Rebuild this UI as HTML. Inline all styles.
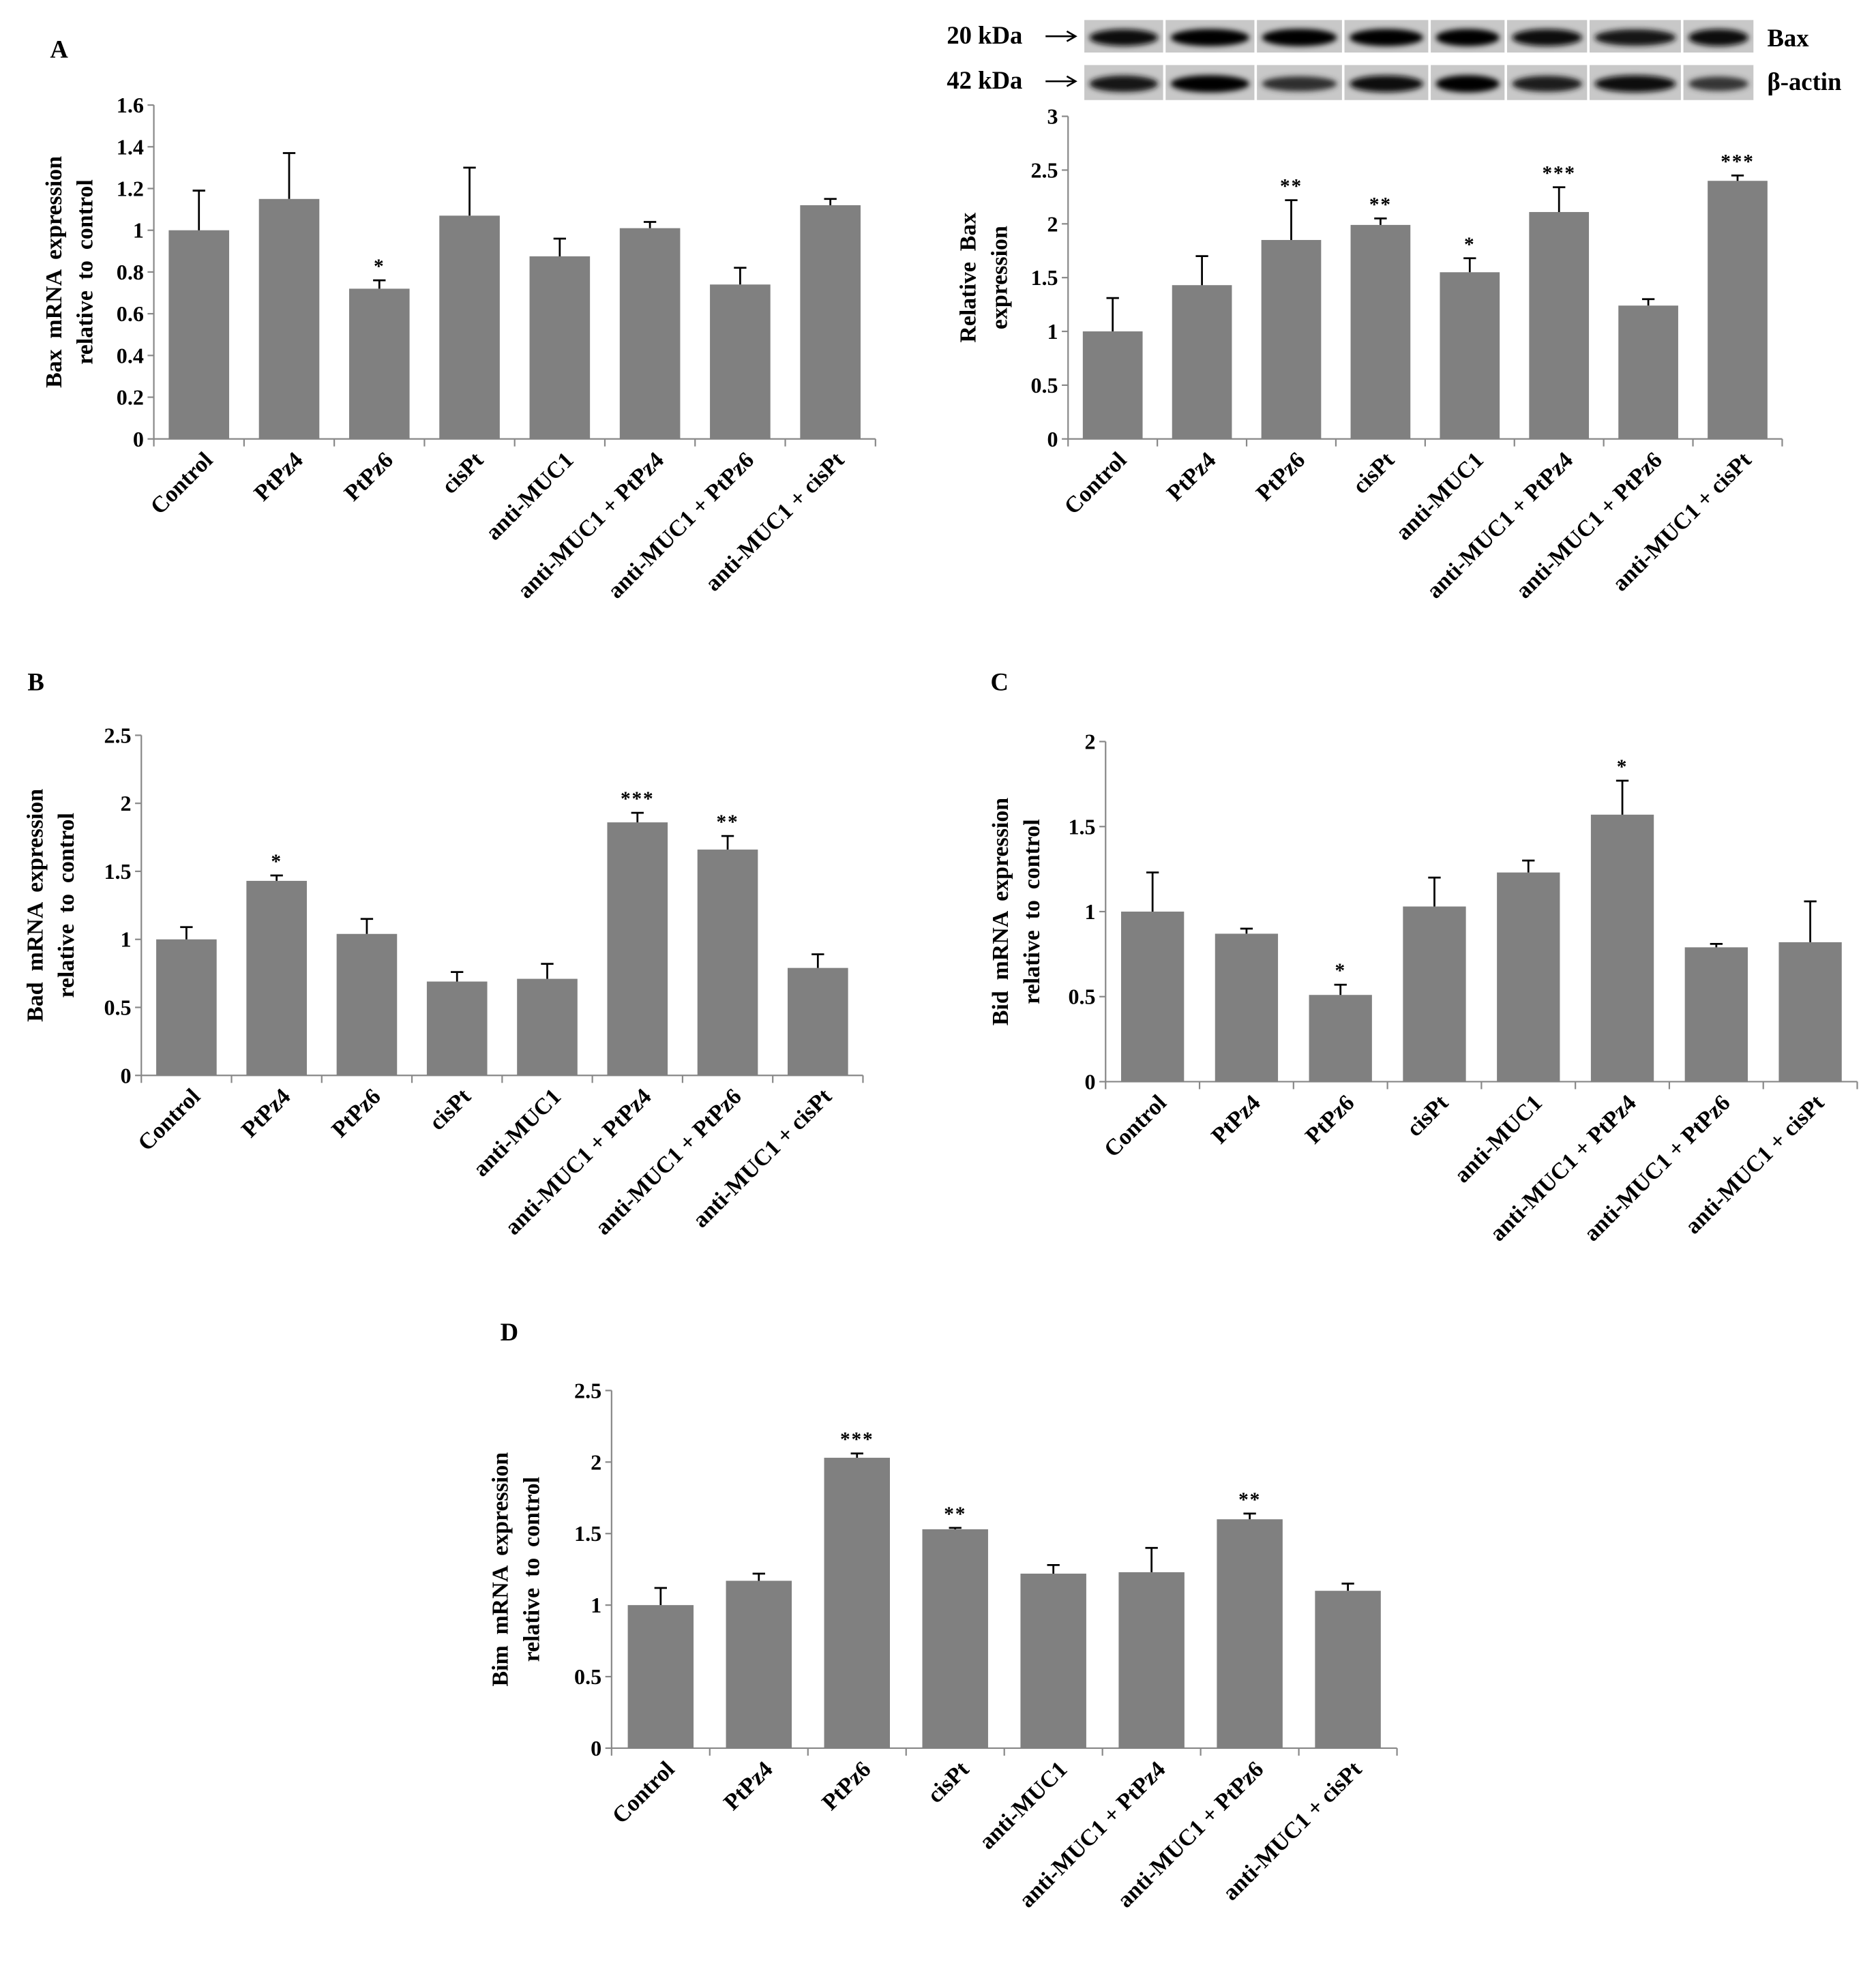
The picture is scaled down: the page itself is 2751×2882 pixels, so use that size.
<!DOCTYPE html>
<html><head><meta charset="utf-8"><style>
html,body{margin:0;padding:0;background:#fff;}
svg{display:block;}
text{font-family:"Liberation Serif",serif;font-weight:bold;fill:#000;}
</style></head><body>
<svg id="fig" width="2751" height="2882" viewBox="0 0 1500 1571.4" xmlns="http://www.w3.org/2000/svg">
<defs><filter id="bl" x="-20%" y="-50%" width="140%" height="200%"><feGaussianBlur stdDeviation="2.2"/></filter></defs>
<g id="root"></g>
</svg>
<script>
const categories = ["Control","PtPz4","PtPz6","cisPt","anti-MUC1","anti-MUC1 + PtPz4","anti-MUC1 + PtPz6","anti-MUC1 + cisPt"];
const baxMrna = [1.0,1.15,0.72,1.07,0.875,1.01,0.74,1.12];
const baxMrnaErr = [1.19,1.37,0.76,1.30,0.96,1.04,0.82,1.15];
const baxMrnaSig = ["","","*","","","","",""];
const baxProt = [1.0,1.43,1.85,1.99,1.55,2.11,1.24,2.40];
const baxProtErr = [1.31,1.70,2.22,2.05,1.68,2.34,1.30,2.45];
const baxProtSig = ["","","**","**","*","***","","***"];
const bad = [1.0,1.43,1.04,0.69,0.71,1.86,1.66,0.79];
const badErr = [1.09,1.47,1.15,0.76,0.82,1.93,1.76,0.89];
const badSig = ["","*","","","","***","**",""];
const bid = [1.0,0.87,0.51,1.03,1.23,1.57,0.79,0.82];
const bidErr = [1.23,0.90,0.57,1.20,1.30,1.77,0.81,1.06];
const bidSig = ["","","*","","","*","",""];
const bim = [1.0,1.17,2.03,1.53,1.22,1.23,1.60,1.10];
const bimErr = [1.12,1.22,2.06,1.54,1.28,1.40,1.64,1.15];
const bimSig = ["","","***","**","","","**",""];
const ticksA = ["0","0.2","0.4","0.6","0.8","1","1.2","1.4","1.6"];
const ticks3 = ["0","0.5","1","1.5","2","2.5","3"];
const ticks25 = ["0","0.5","1","1.5","2","2.5"];
const ticks2 = ["0","0.5","1","1.5","2"];

const NS="http://www.w3.org/2000/svg";
const root=document.getElementById('root');
function mk(tag,attrs,parent){const e=document.createElementNS(NS,tag);for(const k in attrs)e.setAttribute(k,attrs[k]);(parent||root).appendChild(e);return e;}

function chart(id,cfg){
  const g=mk('g',{});
  
  
  const {x0,x1,yTop,y0,max,ticks,vals,errs,sig,titles,tx,ty}=cfg;
  const yS=v=>y0-(v/max)*(y0-yTop);
  const step=(x1-x0)/vals.length;
  const bw=step*0.67;
  const ya=mk('line',{x1:x0,y1:yTop,x2:x0,y2:y0,stroke:'#888','stroke-width':1.2},g);
  
  
  const xa=mk('line',{x1:x0,y1:y0,x2:x1,y2:y0,stroke:'#888','stroke-width':1.2},g);
  
  
  ticks.forEach(t=>{const v=parseFloat(t),y=yS(v);
    mk('line',{x1:x0-5,y1:y,x2:x0,y2:y,stroke:'#888','stroke-width':1.2},g);
    const tl=mk('text',{x:x0-8,y:y+6,'text-anchor':'end','font-size':17.5},g);
    tl.textContent=t;
    
    
  });
  for(let i=0;i<=vals.length;i++){mk('line',{x1:x0+i*step,y1:y0,x2:x0+i*step,y2:y0+6,stroke:'#888','stroke-width':1.2},g);}
  vals.forEach((v,i)=>{
    const cx=x0+step*(i+0.5);
    const b=mk('rect',{x:cx-bw/2,y:yS(v),width:bw,height:y0-yS(v),fill:'#808080'},g);
    
    
    const ey=yS(errs[i]);
    const eb=mk('path',{d:`M${cx},${yS(v)}V${ey}M${cx-5},${ey}H${cx+5}`,stroke:'#000','stroke-width':1.5,fill:'none'},g);
    
    
    if(sig[i]){const s=mk('text',{x:cx,y:ey-6,'text-anchor':'middle','font-size':16,'letter-spacing':1},g);s.textContent=sig[i];
      
      }
    const lx=cx+12,ly=y0+18;
    const xl=mk('text',{x:lx,y:ly,'text-anchor':'end','font-size':18.5,transform:`rotate(-45 ${lx} ${ly})`},g);
    xl.textContent=categories[i];
    
    
  });
  const cy=(yTop+y0)/2;
  titles.forEach((t,k)=>{const x=tx+k*25;
    const yt=mk('text',{x:x,y:ty||cy,'text-anchor':'middle','font-size':18.5,'word-spacing':4,transform:`rotate(-90 ${x} ${ty||cy})`},g);
    yt.textContent=t;
    
    });
}
function panelLabel(t,x,y){const e=mk('text',{x:x,y:y,'font-size':20});e.textContent=t;
  
  }

panelLabel('A',40,46);panelLabel('B',22,552);panelLabel('C',792,552);panelLabel('D',400,1072);
chart('bax-mrna',{x0:123,x1:700,yTop:84,y0:351,max:1.6,ticks:ticksA,vals:baxMrna,errs:baxMrnaErr,sig:baxMrnaSig,titles:['Bax mRNA  expression','relative  to control'],tx:49});
chart('bax-protein',{x0:854,x1:1425,yTop:93,y0:351,max:3,ticks:ticks3,vals:baxProt,errs:baxProtErr,sig:baxProtSig,titles:['Relative  Bax','expression'],tx:780,ty:222});
chart('bad-mrna',{x0:113,x1:690,yTop:588,y0:860,max:2.5,ticks:ticks25,vals:bad,errs:badErr,sig:badSig,titles:['Bad mRNA  expression','relative  to control'],tx:34});
chart('bid-mrna',{x0:884,x1:1485,yTop:593,y0:865,max:2,ticks:ticks2,vals:bid,errs:bidErr,sig:bidSig,titles:['Bid mRNA  expression','relative  to control'],tx:806});
chart('bim-mrna',{x0:489,x1:1117,yTop:1112,y0:1398,max:2.5,ticks:ticks25,vals:bim,errs:bimErr,sig:bimSig,titles:['Bim mRNA  expression','relative  to control'],tx:406,ty:1255});

const laneEdges=[866,931,1004,1074,1143,1204,1270,1345,1403];
const baxInt=[0.85,0.95,1,0.95,0.95,0.9,0.8,0.9];
const actinInt=[0.8,0.95,0.5,0.85,0.95,0.7,0.9,0.4];
const bg=mk('g',{});


[[16,42,baxInt],[52,80,actinInt]].forEach(([t,b,ints])=>{
  for(let i=0;i<8;i++){
    const xa=laneEdges[i]+1,xb=laneEdges[i+1]-1;
    mk('rect',{x:xa,y:t,width:xb-xa,height:b-t,fill:'#c8c8c8'},bg);
    const c=Math.round(90-ints[i]*90);
    mk('ellipse',{cx:(xa+xb)/2,cy:(t+b)/2+1,rx:(xb-xa)/2-4,ry:5+ints[i]*2,fill:`rgb(${c},${c},${c})`,filter:'url(#bl)'},bg);
  }
});
[['20 kDa',35],['42 kDa',71]].forEach(([t,y])=>{const e=mk('text',{x:757,y:y,'font-size':20},bg);e.textContent=t;
  
  
  const a=mk('path',{d:`M836,${y-6}H860M853,${y-10}L860,${y-6}L853,${y-2}`,stroke:'#000','stroke-width':1.4,fill:'none'},bg);
  
  });
[['Bax',37],['β-actin',72]].forEach(([t,y])=>{const e=mk('text',{x:1413,y:y,'font-size':20},bg);e.textContent=t;
  
  });
</script>
</body></html>
